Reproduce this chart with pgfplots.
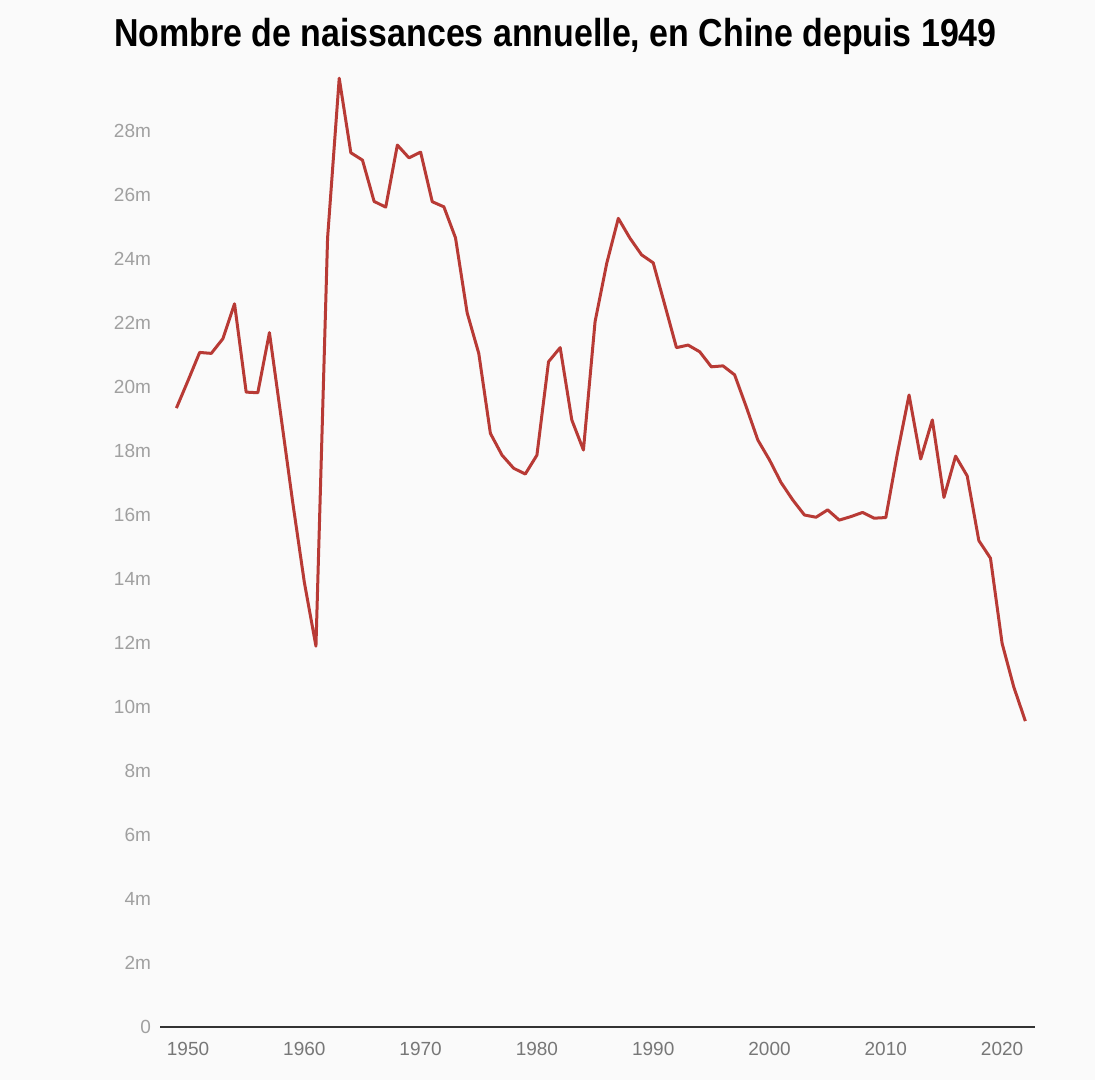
\documentclass[border=0pt]{standalone}
\usepackage{pgfplots}
\pgfplotsset{compat=1.18}
\usepackage{fontspec}
\setmainfont{Liberation Sans}
\newfontfamily\titlefont[FakeStretch=0.87]{Liberation Sans}
\definecolor{bg}{HTML}{FAFAFA}
\definecolor{redline}{HTML}{B83A35}
\definecolor{ylbl}{HTML}{A0A0A0}
\definecolor{xlbl}{HTML}{777777}
\definecolor{axl}{HTML}{333333}
\begin{document}
\begin{tikzpicture}
\fill[bg] (0,0) rectangle (547.5pt,540pt);
\node[font=\titlefont\bfseries\fontsize{19.5}{22}\selectfont, anchor=center] at (277.75pt,522pt) {Nombre de naissances annuelle, en Chine depuis 1949};
\begin{axis}[
  at={(80pt,26.5pt)}, anchor=south west,
  scale only axis, width=437.5pt, height=480pt,
  xmin=1947.59, xmax=2022.83, ymin=0, ymax=30,
  axis x line*=bottom, axis y line*=left,
  x axis line style={draw=axl, line width=1pt, -},
  y axis line style={draw=none},
  xtick={1950,1960,...,2020},
  xticklabels={1950,1960,1970,1980,1990,2000,2010,2020},
  ytick={0,2,...,28},
  yticklabels={0,2m,4m,6m,8m,10m,12m,14m,16m,18m,20m,22m,24m,26m,28m},
  major tick length=0pt,
  tick style={draw=none},
  ticklabel style={font=\fontsize{9.5}{10}\selectfont},
  xticklabel style={yshift=-4pt, text=xlbl},
  yticklabel style={xshift=-1pt, text=ylbl},
  /pgf/number format/assume math mode=true,
  clip=false,
]
\addplot[line width=1.5pt, color=redline, line join=round] coordinates {
(1949,19.34) (1950,20.2) (1951,21.08) (1952,21.05) (1953,21.51) (1954,22.6)
(1955,19.84) (1956,19.82) (1957,21.7) (1958,19.06) (1959,16.4) (1960,13.9)
(1961,11.9) (1962,24.66) (1963,29.65) (1964,27.32) (1965,27.09) (1966,25.8)
(1967,25.62) (1968,27.56) (1969,27.16) (1970,27.34) (1971,25.79) (1972,25.63)
(1973,24.66) (1974,22.32) (1975,21.05) (1976,18.55) (1977,17.87) (1978,17.46)
(1979,17.28) (1980,17.87) (1981,20.79) (1982,21.23) (1983,18.97) (1984,18.03)
(1985,22.04) (1986,23.86) (1987,25.27) (1988,24.65) (1989,24.13) (1990,23.88)
(1991,22.56) (1992,21.23) (1993,21.31) (1994,21.1) (1995,20.63) (1996,20.66)
(1997,20.38) (1998,19.38) (1999,18.34) (2000,17.72) (2001,17.01) (2002,16.47)
(2003,16.0) (2004,15.93) (2005,16.16) (2006,15.84) (2007,15.95) (2008,16.08)
(2009,15.9) (2010,15.92) (2011,17.93) (2012,19.75) (2013,17.75) (2014,18.97)
(2015,16.55) (2016,17.84) (2017,17.22) (2018,15.2) (2019,14.65) (2020,11.99)
(2021,10.63) (2022,9.56)
};
\end{axis}
\end{tikzpicture}
\end{document}
